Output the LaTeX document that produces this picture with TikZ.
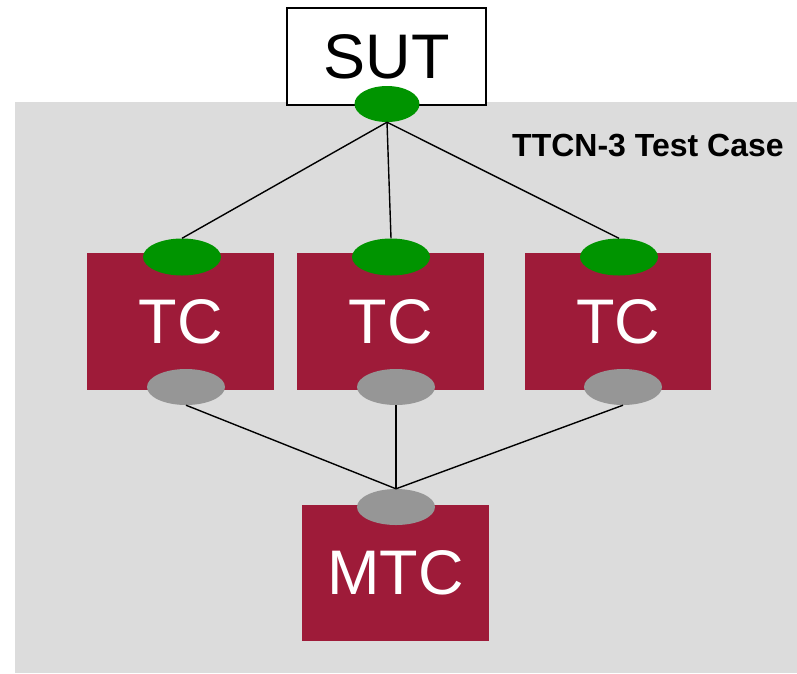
\documentclass[tikz,border=0pt]{standalone}
\usepackage{fontspec}
\setmainfont{Liberation Sans}
\usetikzlibrary{shapes.geometric}
\definecolor{bggray}{RGB}{220,220,220}
\definecolor{tcred}{RGB}{158,27,57}
\definecolor{portgreen}{RGB}{0,148,0}
\definecolor{portgray}{RGB}{150,150,150}
\tikzset{
  compbox/.style={fill=tcred, draw=none, text=white, inner sep=0pt,
    minimum width=187pt, minimum height=137pt,
    font=\fontsize{63}{63}\selectfont},
  sutbox/.style={fill=white, draw=black, line width=1.8pt, inner sep=0pt,
    minimum width=199pt, minimum height=97pt,
    font=\fontsize{63}{63}\selectfont},
  greenport/.style={ellipse, fill=portgreen, draw=none, inner sep=0pt,
    minimum width=78pt, minimum height=37pt},
  grayport/.style={ellipse, fill=portgray, draw=none, inner sep=0pt,
    minimum width=78pt, minimum height=36pt},
  link/.style={draw=black, line width=1.4pt},
}
\begin{document}
\begin{tikzpicture}[x=1pt,y=-1pt]
\useasboundingbox (0,0) rectangle (797,673);
% test case area
\fill[bggray] (15,102) rectangle (797,673);
\node[anchor=base west, font=\fontsize{32}{32}\selectfont\bfseries, inner sep=0pt]
  (title) at (512,156) {TTCN-3 Test Case};

% system under test
\node[sutbox] (sut) at (386.5,56.5) {SUT};
\node[greenport, minimum width=65pt, minimum height=36pt] (sutp) at (387,104) {};

% parallel test components
\node[compbox] (tc1) at (180.5,321.5) {TC};
\node[compbox] (tc2) at (390.5,321.5) {TC};
\node[compbox, minimum width=186pt] (tc3) at (618,321.5) {TC};
\node[greenport] (g1) at (182,257) {};
\node[greenport] (g2) at (391,257) {};
\node[greenport] (g3) at (619,257) {};
\node[grayport] (p1) at (186,387) {};
\node[grayport] (p2) at (396,387) {};
\node[grayport] (p3) at (623,387) {};

% main test component
\node[compbox, minimum height=136pt] (mtc) at (395.5,573) {MTC};
\node[grayport] (mp) at (396,507) {};

% connections
\draw[link] (sutp.south) -- (g1.north);
\draw[link] (sutp.south) -- (g2.north);
\draw[link] (sutp.south) -- (g3.north);
\draw[link] (mp.north) -- (p1.south);
\draw[link] (mp.north) -- (p2.south);
\draw[link] (mp.north) -- (p3.south);
\end{tikzpicture}
\end{document}
